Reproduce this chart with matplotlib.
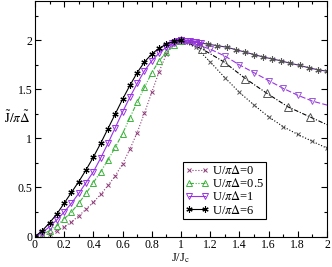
import numpy as np
import matplotlib
matplotlib.use("Agg")
import matplotlib.pyplot as plt
from matplotlib.ticker import MultipleLocator

plt.rcParams['font.family'] = ['Liberation Serif', 'DejaVu Serif']
plt.rcParams['mathtext.fontset'] = 'stix'

# ---- data: J/Jc < 1 branch ----
J_left = [0, 0.05, 0.1, 0.15, 0.2, 0.25, 0.3, 0.35, 0.4, 0.45, 0.5,
          0.55, 0.6, 0.65, 0.7, 0.75, 0.8, 0.85, 0.9, 0.95, 1.0]
U0_left = [0, 0.01, 0.03, 0.06, 0.10, 0.15, 0.21, 0.28, 0.35, 0.43, 0.52,
           0.62, 0.74, 0.89, 1.06, 1.26, 1.47, 1.68, 1.86, 1.96, 1.99]
U05_left = [0, 0.02, 0.06, 0.11, 0.18, 0.25, 0.34, 0.44, 0.55, 0.66, 0.78,
            0.91, 1.05, 1.21, 1.37, 1.52, 1.67, 1.79, 1.88, 1.95, 1.99]
U1_left = [0, 0.04, 0.10, 0.17, 0.25, 0.34, 0.44, 0.55, 0.66, 0.80, 0.95,
           1.11, 1.27, 1.42, 1.56, 1.69, 1.79, 1.87, 1.93, 1.97, 2.0]
U6_left = [0, 0.06, 0.14, 0.23, 0.34, 0.45, 0.56, 0.68, 0.81, 0.95, 1.10,
           1.25, 1.40, 1.54, 1.67, 1.78, 1.86, 1.92, 1.96, 1.99, 2.0]

# dense sampling near Jc (U/piDelta=1)
J_peak = [0.90, 0.92, 0.94, 0.96, 0.98, 1.0, 1.02, 1.04, 1.06, 1.08, 1.10, 1.12, 1.14]
U1_peak = [1.93, 1.95, 1.97, 1.985, 1.995, 2.0, 1.998, 1.995, 1.99, 1.985, 1.98, 1.975, 1.97]

# ---- data: J/Jc > 1 branch ----
J_right0 = [1.0, 1.1, 1.2, 1.3, 1.4, 1.5, 1.6, 1.7, 1.8, 1.9, 2.0]
U0_right = [1.99, 1.93, 1.78, 1.62, 1.47, 1.34, 1.22, 1.12, 1.04, 0.97, 0.90]
J_right05 = [1.0, 1.147, 1.294, 1.441, 1.588, 1.735, 1.882, 2.0]
U05_right = [2.0, 1.91, 1.78, 1.61, 1.46, 1.32, 1.22, 1.14]
J_right1 = [1.0, 1.1, 1.2, 1.3, 1.4, 1.5, 1.6, 1.7, 1.8, 1.9, 2.0]
U1_right = [2.0, 1.96, 1.91, 1.84, 1.75, 1.67, 1.59, 1.51, 1.44, 1.38, 1.34]
J_right6 = [1.0, 1.0625, 1.125, 1.1875, 1.25, 1.3125, 1.375, 1.4375, 1.5,
            1.5625, 1.625, 1.6875, 1.75, 1.8125, 1.875, 1.9375, 2.0]
U6_right = [2.0, 1.99, 1.975, 1.96, 1.945, 1.93, 1.905, 1.88, 1.855,
            1.83, 1.81, 1.79, 1.765, 1.745, 1.72, 1.70, 1.685]

labels = [r'U/$\pi\Delta$=0', r'U/$\pi\Delta$=0.5', r'U/$\pi\Delta$=1', r'U/$\pi\Delta$=6']

c_u0 = '#8e3a78'
c_u05 = '#3cb43c'
c_u1 = '#9a32e6'
c_u6 = '#000000'
grey = '#555555'

fig = plt.figure(figsize=(3.32, 2.67), dpi=100)
ax = fig.add_axes([0.1054, 0.1142, 0.8795, 0.8818])

lw = 0.8
ms_x, ms_t, ms_s = 3.5, 5, 4.5
# right branch
ax.plot(J_right0, U0_right, ls=':', color='black', lw=lw, marker='x', ms=ms_x,
        mec=grey, mew=0.7)
ax.plot(J_right05, U05_right, ls=(0, (4, 1.5, 1, 1.5)), color='black', lw=lw,
        marker='^', ms=ms_t + 0.5, mfc='none', mec=grey, mew=0.7,
        markevery=list(range(len(J_right05) - 1)))
ax.plot(J_right1, U1_right, ls=(0, (5, 2)), color=c_u1, lw=lw, marker='v', ms=ms_t,
        mfc='none', mec='#9b59d6', mew=0.7, markevery=list(range(len(J_right1) - 1)))
ax.plot(J_right6, U6_right, ls='-', color='#4a2a70', lw=lw, marker=(6, 2, 0), ms=ms_s,
        mec=grey, mew=0.8)

# left branch
ax.plot(J_left, U0_left, ls=':', color=c_u0, lw=lw, marker='x', ms=ms_x, mec=c_u0, mew=0.7,
        label=labels[0])
ax.plot(J_left, U05_left, ls=(0, (4, 1.5, 1, 1.5, 1, 1.5)), color=c_u05, lw=lw, marker='^',
        ms=ms_t, mfc='none', mec=c_u05, mew=0.7, label=labels[1])
ax.plot(J_left, U1_left, ls='-', color=c_u1, lw=lw, marker='v', ms=ms_t, mfc='none',
        mec=c_u1, mew=0.7, label=labels[2])
ax.plot(J_peak, U1_peak, ls='-', color=c_u1, lw=lw, marker='v', ms=ms_t, mfc='none',
        mec=c_u1, mew=0.7)
ax.plot(J_left, U6_left, ls='-', color=c_u6, lw=lw, marker=(6, 2, 0), ms=ms_s, mec=c_u6,
        mew=0.8, label=labels[3])

ax.set_xlim(0, 2)
ax.set_ylim(0, 2.4)
ax.xaxis.set_minor_locator(MultipleLocator(0.1))
ax.yaxis.set_minor_locator(MultipleLocator(0.25))
ax.set_xticks(np.arange(0, 2.01, 0.2))
ax.set_xticklabels(['0', '0.2', '0.4', '0.6', '0.8', '1', '1.2', '1.4', '1.6', '1.8', '2'])
ax.set_yticks([0, 0.5, 1, 1.5, 2])
ax.set_yticklabels(['0', '0.5', '1', '1.5', '2'])
ax.tick_params(which='both', direction='in', top=True, right=True, labelsize=8.5,
               width=0.8, pad=2)
ax.tick_params(which='major', length=4)
ax.tick_params(which='minor', length=2)
for s in ax.spines.values():
    s.set_linewidth(0.8)

ax.set_xlabel(r'J/J$_\mathrm{c}$', fontsize=9, labelpad=0)
fig.text(0.053, 0.557, r'$\tilde{\mathrm{J}}/\pi\tilde{\Delta}$', fontsize=9.5,
         ha='center', va='center')

leg = ax.legend(loc='upper left', bbox_to_anchor=(0.507, 0.316), fontsize=9,
                numpoints=2, handlelength=1.9, handletextpad=0.3, labelspacing=0.02,
                borderpad=0.15, borderaxespad=0, fancybox=False, edgecolor='black',
                framealpha=1)
leg.get_frame().set_linewidth(0.8)

fig.savefig('out.png', dpi=100)
